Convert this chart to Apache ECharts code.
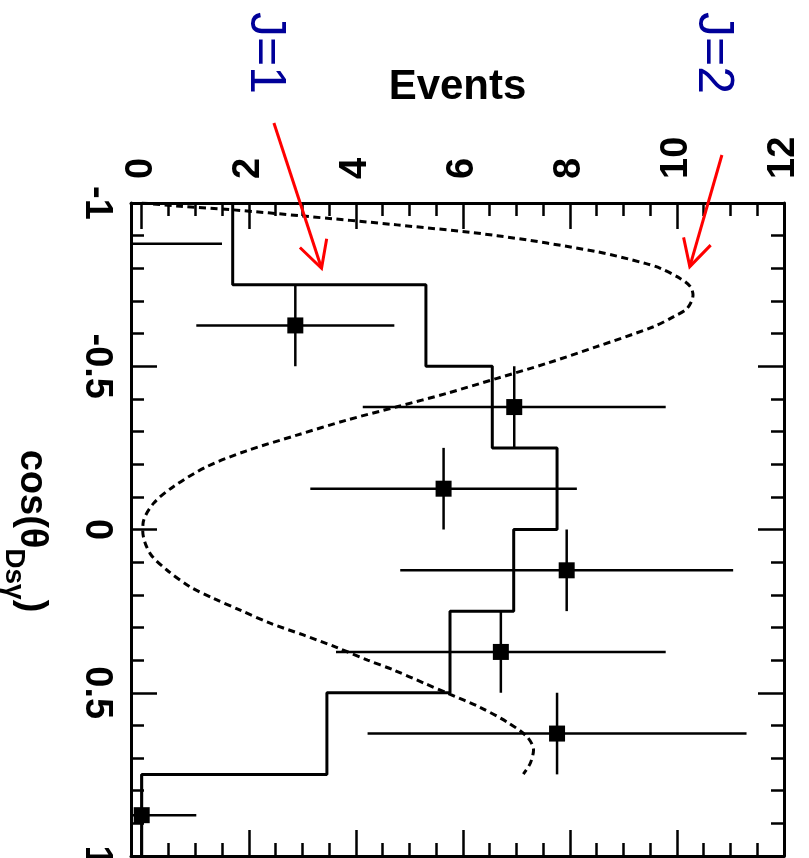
<!DOCTYPE html>
<html>
<head>
<meta charset="utf-8">
<script src="https://cdn.jsdelivr.net/npm/echarts@6/dist/echarts.min.js"></script>
<style>
html, body { margin: 0; padding: 0; background: #fff; }
#chart { width: 809px; height: 858px; }
</style>
</head>
<body>
<div id="chart"></div>
<script>
// histogram: bins in cos(theta), width 0.25
const binEdges = [-1, -0.75, -0.5, -0.25, 0, 0.25, 0.5, 0.75, 1]
const histCounts = [1.70, 5.31, 6.55, 7.76, 6.95, 5.76, 3.46, 0]

// data points (bin centres) with errors
const pointCos = [-0.875, -0.625, -0.375, -0.125, 0.125, 0.375, 0.625, 0.875]
const pointVal = [-0.5, 2.87, 6.96, 5.64, 7.94, 6.71, 7.76, 0]
const pointErr = [2.0, 1.85, 2.83, 2.49, 3.11, 3.08, 3.54, 1.02]
const binHalf = 0.125

// dashed curve
const curveCos = [-1, -0.99, -0.979, -0.96, -0.933, -0.9, -0.851, -0.815, -0.8, -0.769, -0.744, -0.718,
  -0.677, -0.652, -0.621, -0.56, -0.509, -0.463, -0.417, -0.376, -0.335, -0.289, -0.241, -0.192,
  -0.131, -0.08, -0.024, 0.006, 0.073, 0.124, 0.175, 0.211, 0.247, 0.287, 0.323, 0.361, 0.4,
  0.43, 0.471, 0.502, 0.543, 0.589, 0.635, 0.675, 0.716, 0.749]
const curveVal = [0, 0.72, 1.71, 3.02, 4.77, 6.64, 8.5, 9.41, 9.69, 10.06, 10.25, 10.3,
  10.19, 9.94, 9.56, 8.5, 7.57, 6.64, 5.7, 4.77, 3.83, 2.9, 1.96, 1.21,
  0.59, 0.22, 0.03, 0.02, 0.155, 0.47, 0.9, 1.34, 1.84, 2.4, 3.02, 3.64, 4.22,
  4.7, 5.28, 5.72, 6.3, 6.82, 7.2, 7.32, 7.26, 7.13]

// annotations: label text, arrow start and tip (events, cos)
const arrowText = ['J=1', 'J=2']
const arrowFrom = [[2.47, -1.245], [10.84, -1.147]]
const arrowTo = [[3.36, -0.80], [10.24, -0.805]]

// axis ticks
const eventMin = -0.2
const eventMax = 12
const eventMajor = [0, 2, 4, 6, 8, 10, 12]
const eventMinor = [0.5, 1, 1.5, 2.5, 3, 3.5, 4.5, 5, 5.5, 6.5, 7, 7.5, 8.5, 9, 9.5, 10.5, 11, 11.5]

const FONT = '"Liberation Sans", Arial, Helvetica, sans-serif'

const chart = echarts.init(document.getElementById('chart'))

// histogram outline as a step polyline
const histLine = []
histCounts.forEach((v, i) => {
  histLine.push([v, binEdges[i]], [v, binEdges[i + 1]])
})

const eventAxis = (pos, ticks, len, withLine, withLabel) => ({
  type: 'value',
  position: pos,
  min: eventMin,
  max: eventMax,
  axisLine: { show: withLine, onZero: false, lineStyle: { color: '#000', width: 3 } },
  axisTick: { show: true, inside: true, length: len, customValues: ticks, lineStyle: { color: '#000', width: 2.5 } },
  axisLabel: withLabel ? {
    show: true, rotate: -90, margin: 24, customValues: ticks,
    color: '#000', fontSize: 38, fontWeight: 'bold', fontFamily: FONT
  } : { show: false },
  splitLine: { show: false }
})

const cosAxis = (pos, withLabel) => ({
  type: 'value',
  position: pos,
  inverse: true,
  min: -1,
  max: 1,
  interval: 0.5,
  axisLine: { show: true, onZero: false, lineStyle: { color: '#000', width: 3 } },
  axisTick: { show: true, inside: true, length: 26, lineStyle: { color: '#000', width: 2.5 } },
  minorTick: { show: true, splitNumber: 5, length: 13, lineStyle: { color: '#000', width: 2.5 } },
  axisLabel: withLabel ? {
    show: true, rotate: -90, margin: 16,
    color: '#000', fontSize: 38, fontWeight: 'bold', fontFamily: FONT
  } : { show: false },
  splitLine: { show: false },
  minorSplitLine: { show: false }
})

const topAxis = eventAxis('top', eventMajor, 26, true, true)
topAxis.name = 'Events'
topAxis.nameLocation = 'middle'
topAxis.nameGap = 95
topAxis.nameTextStyle = { color: '#000', fontSize: 42, fontWeight: 'bold', fontFamily: FONT }

const option = {
  animation: false,
  backgroundColor: '#fff',
  grid: { left: 131, right: 25, top: 203, bottom: 2, outerBoundsMode: 'none' },
  xAxis: [
    topAxis,
    eventAxis('top', eventMinor, 13, false, false),
    eventAxis('bottom', eventMajor, 26, true, false),
    eventAxis('bottom', eventMinor, 13, false, false)
  ],
  yAxis: [cosAxis('left', true), cosAxis('right', false)],
  graphic: [
    {
      type: 'text', x: 30, y: 531, rotation: -Math.PI / 2,
      style: {
        text: '{m|cos(θ}{s|Dsγ}{m|)}',
        align: 'center', verticalAlign: 'middle',
        rich: {
          m: { fontSize: 38, fontWeight: 'bold', fontFamily: FONT, lineHeight: 40, verticalAlign: 'top', fill: '#000' },
          s: { fontSize: 28, fontWeight: 'bold', fontFamily: FONT, lineHeight: 27, padding: [22, 0, 0, 0], verticalAlign: 'top', fill: '#000' }
        }
      }
    },
    {
      type: 'text', x: 265, y: 53, rotation: -Math.PI / 2,
      style: { text: arrowText[0], font: '50px ' + FONT, fill: '#000099', align: 'center', verticalAlign: 'middle' }
    },
    {
      type: 'text', x: 713, y: 53, rotation: -Math.PI / 2,
      style: { text: arrowText[1], font: '50px ' + FONT, fill: '#000099', align: 'center', verticalAlign: 'middle' }
    }
  ],
  series: [
    {
      type: 'line',
      data: histLine,
      symbol: 'none',
      lineStyle: { color: '#000', width: 3 },
      z: 3
    },
    {
      type: 'line',
      data: curveCos.map((c, i) => [curveVal[i], c]),
      symbol: 'none',
      smooth: 0.3,
      lineStyle: { color: '#000', width: 3, type: [7, 4.5] },
      z: 3
    },
    {
      type: 'custom',
      data: pointCos.map((c, i) => [pointVal[i], c, pointErr[i]]),
      z: 4,
      renderItem: (params, api) => {
        const v = api.value(0)
        const c = api.value(1)
        const e = api.value(2)
        const lo = Math.max(v - e, eventMin)
        const hi = Math.min(v + e, eventMax)
        const kids = []
        const style = { stroke: '#000', lineWidth: 2.5 }
        if (hi > lo) {
          const a = api.coord([lo, c])
          const b = api.coord([hi, c])
          kids.push({ type: 'line', shape: { x1: a[0], y1: a[1], x2: b[0], y2: b[1] }, style })
        }
        if (v >= eventMin && v <= eventMax) {
          const t = api.coord([v, c - binHalf])
          const u = api.coord([v, c + binHalf])
          kids.push({ type: 'line', shape: { x1: t[0], y1: t[1], x2: u[0], y2: u[1] }, style })
          const p = api.coord([v, c])
          kids.push({ type: 'rect', shape: { x: p[0] - 8, y: p[1] - 8, width: 16, height: 16 }, style: { fill: '#000' } })
        }
        return { type: 'group', children: kids }
      }
    },
    {
      type: 'custom',
      data: arrowFrom.map((f, i) => [f[0], f[1], arrowTo[i][0], arrowTo[i][1]]),
      z: 5,
      renderItem: (params, api) => {
        const p0 = api.coord([api.value(0), api.value(1)])
        const p1 = api.coord([api.value(2), api.value(3)])
        const ang = Math.atan2(p0[1] - p1[1], p0[0] - p1[0])
        const L = 30
        const a = 28 * Math.PI / 180
        const h1 = [p1[0] + L * Math.cos(ang + a), p1[1] + L * Math.sin(ang + a)]
        const h2 = [p1[0] + L * Math.cos(ang - a), p1[1] + L * Math.sin(ang - a)]
        const style = { stroke: '#ff0000', lineWidth: 3, fill: null }
        return {
          type: 'group',
          children: [
            { type: 'line', shape: { x1: p0[0], y1: p0[1], x2: p1[0], y2: p1[1] }, style },
            { type: 'polyline', shape: { points: [h1, p1, h2] }, style }
          ]
        }
      }
    }
  ]
}

chart.setOption(option)
</script>
</body>
</html>
